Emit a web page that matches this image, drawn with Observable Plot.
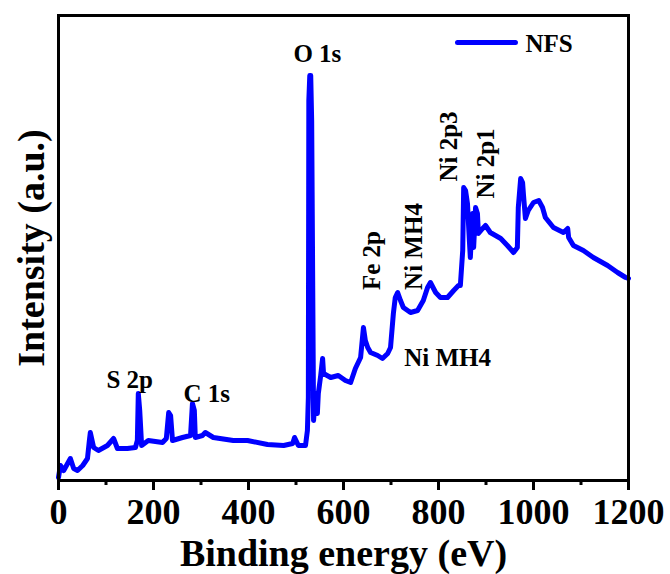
<!DOCTYPE html>
<html>
<head>
<meta charset="utf-8">
<script src="https://cdn.jsdelivr.net/npm/d3@7"></script>
<script src="https://cdn.jsdelivr.net/npm/@observablehq/plot@0.6"></script>
<style>
  html, body { margin: 0; padding: 0; background: #ffffff; }
  #chart { width: 670px; height: 574px; }
</style>
</head>
<body>
<div id="chart"></div>
<script>
// Binding energy (eV) of the NFS survey spectrum
const energy = [
  0, 4, 11, 25, 32, 40, 51, 61, 65, 67, 74, 84, 103, 116, 124, 145, 162, 166, 168, 171,
  175, 189, 219, 227, 232, 236, 240, 261, 278, 282, 286, 288, 303, 309, 326, 368, 398, 440,
  474, 493, 497, 505, 520, 524, 526, 527, 529, 531, 533, 535, 537, 541, 545, 547, 552, 556,
  558, 573, 589, 604, 615, 625, 636, 642, 646, 651, 657, 672, 682, 693, 699, 705, 709, 714,
  720, 726, 741, 756, 768, 777, 783, 794, 804, 819, 832, 842, 846, 851, 853, 857, 861, 865,
  867, 872, 874, 878, 882, 884, 893, 899, 909, 931, 945, 958, 966, 968, 973, 977, 979, 983,
  989, 1000, 1011, 1019, 1025, 1042, 1063, 1072, 1074, 1084, 1105, 1126, 1156, 1177, 1194, 1200
];
// Intensity (a.u.)
const intensity = [
  3, 15, 10, 22, 12, 10, 15, 22, 40, 48, 33, 30, 35, 42, 32, 32, 33, 40, 87, 70,
  35, 40, 38, 42, 68, 65, 40, 43, 45, 77, 70, 43, 45, 48, 43, 40, 40, 36,
  35, 37, 43, 35, 35, 50, 83, 380, 405, 405, 360, 210, 60, 87, 67, 87, 105, 122,
  107, 103, 105, 100, 98, 112, 123, 153, 140, 133, 128, 125, 122, 127, 133, 167, 183, 188,
  180, 173, 168, 170, 180, 193, 198, 188, 183, 183, 190, 195, 195, 230, 293, 290, 277, 240,
  223, 267, 233, 273, 267, 247, 252, 255, 248, 242, 235, 228, 233, 273, 302, 298, 285, 262,
  270, 278, 280, 273, 263, 253, 248, 252, 243, 235, 230, 223, 215, 208, 203, 202
];

// Tick values
const majorTicks = [0, 200, 400, 600, 800, 1000, 1200];
const minorTicks = [100, 300, 500, 700, 900, 1100];

// Axis titles
const xTitle = "Binding energy (eV)";
const yTitle = "Intensity (a.u.)";

// Peak annotations (text, energy position, intensity position, rotation)
const labelText   = ["O 1s", "S 2p", "C 1s", "Fe 2p", "Ni MH4", "Ni 2p3", "Ni 2p1", "Ni MH4"];
const labelEnergy = [545, 150, 312, 660, 748, 822, 900, 819];
const labelInt    = [427, 101, 87, 220, 234, 334, 317, 123];
const labelRotate = [0, 0, 0, -90, -90, -90, -90, 0];

// Legend
const seriesName = "NFS";
const legendEnergy = [840, 962];
const legendInt = 438;

const spectrum = energy.map((e, i) => ({ e, v: intensity[i] }));
const labels = labelText.map((t, i) => ({ t, e: labelEnergy[i], v: labelInt[i], r: labelRotate[i] }));
const legendLine = legendEnergy.map(e => ({ e, v: legendInt }));

const font = "'Liberation Serif', 'Times New Roman', serif";
const blue = "#0000ff";

const chart = Plot.plot({
  width: 670,
  height: 574,
  marginLeft: 58,
  marginRight: 42,
  marginTop: 15,
  marginBottom: 94,
  style: { fontFamily: font, fontWeight: "bold", background: "#ffffff", color: "#000000" },
  x: { domain: [0, 1200] },
  y: { domain: [0, 465], axis: null },
  marks: [
    Plot.line(spectrum, { x: "e", y: "v", stroke: blue, strokeWidth: 5 }),
    Plot.line(legendLine, { x: "e", y: "v", stroke: blue, strokeWidth: 5 }),
    Plot.text([seriesName], { text: d => d, x: 983, y: 437, textAnchor: "start", lineAnchor: "middle", fontSize: 25, fontWeight: "bold", fill: "#000" }),
    Plot.text(labels, { x: "e", y: "v", text: "t", rotate: "r", textAnchor: "middle", lineAnchor: "middle", fontSize: 25, fontWeight: "bold", fill: "#000" }),
    Plot.axisX({ ticks: minorTicks, tickSize: 5, strokeWidth: 3, tickFormat: () => "", label: null }),
    Plot.axisX({ ticks: majorTicks, tickSize: 10, tickPadding: 8, strokeWidth: 3, fontSize: 36, fontWeight: "bold", tickFormat: d => String(d), label: null }),
    Plot.frame({ stroke: "#000", strokeWidth: 3 }),
    Plot.text([xTitle], { text: d => d, frameAnchor: "bottom", textAnchor: "middle", lineAnchor: "middle", dy: 73, fontSize: 38, fontWeight: "bold", fill: "#000" }),
    Plot.text([yTitle], { text: d => d, frameAnchor: "left", textAnchor: "middle", lineAnchor: "middle", rotate: -90, dx: -27, fontSize: 38, fontWeight: "bold", fill: "#000" })
  ]
});
document.getElementById("chart").appendChild(chart);
</script>
</body>
</html>
